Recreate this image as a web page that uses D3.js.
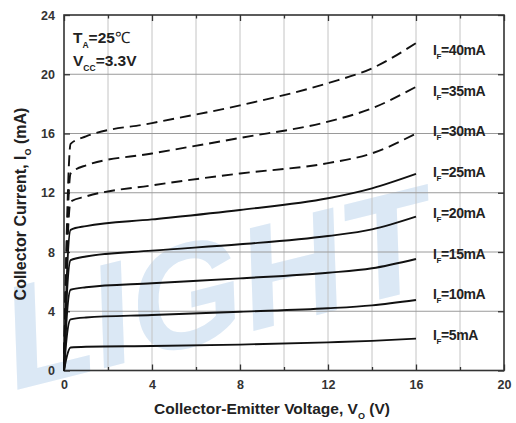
<!DOCTYPE html>
<html>
<head>
<meta charset="utf-8">
<script src="https://cdn.jsdelivr.net/npm/d3@7"></script>
<style>
	body { margin: 0; background: #fff; }
	text { font-family: "Liberation Sans", Arial, sans-serif; }
</style>
</head>
<body>
<script>
var Width = 516;
var Height = 423;
var margin = { top: 15, right: 12, bottom: 52.5, left: 64 };

// collector-emitter voltage points (V)
var vo = [0, 0.12, 0.3, 1, 4, 8, 12, 14, 16];
// collector current (mA) for each forward current
var io5 = [0, 0.9, 1.55, 1.6, 1.65, 1.75, 1.9, 2.0, 2.15];
var io10 = [0, 2.2, 3.45, 3.58, 3.75, 3.97, 4.2, 4.4, 4.76];
var io15 = [0, 3.5, 5.45, 5.62, 5.89, 6.22, 6.6, 6.9, 7.53];
var io20 = [0, 4.8, 7.45, 7.7, 8.09, 8.52, 9.08, 9.53, 10.39];
var io25 = [0, 6.0, 9.5, 9.75, 10.2, 10.84, 11.63, 12.3, 13.27];
var io30 = [0, 7.0, 11.4, 11.75, 12.5, 13.3, 14.0, 14.66, 16.0];
var io35 = [0, 8.0, 13.3, 13.85, 14.65, 15.7, 16.8, 17.7, 19.15];
var io40 = [0, 9.0, 15.3, 15.8, 16.7, 17.9, 19.4, 20.4, 22.1];

var ifLabels = ["40mA", "35mA", "30mA", "25mA", "20mA", "15mA", "10mA", "5mA"];
var ifSeries = [io40, io35, io30, io25, io20, io15, io10, io5];
var ifDashed = [true, true, true, false, false, false, false, false];

var xTicks = [0, 4, 8, 12, 16, 20];
var xMinor = [2, 6, 10, 14, 18];
var yTicks = [0, 4, 8, 12, 16, 20, 24];

var svg = d3.select("body").append("svg")
	.attr("width", Width)
	.attr("height", Height);

var pw = Width - margin.left - margin.right;
var ph = Height - margin.top - margin.bottom;

var x = d3.scaleLinear().domain([0, 20]).range([margin.left, margin.left + pw]);
var y = d3.scaleLinear().domain([0, 24]).range([margin.top + ph, margin.top]);

// watermark
svg.append("text")
	.attr("transform", "translate(8,392) rotate(-14) skewX(-12)")
	.attr("font-size", 146)
	.attr("font-weight", "bold")
	.attr("fill", "#dbe8f5")
	.text("LIGHT");

// grid
var grid = svg.append("g");
grid.selectAll(".vg")
	.data(d3.range(2, 20, 2))
	.enter().append("line")
	.attr("x1", d => x(d)).attr("x2", d => x(d))
	.attr("y1", y(0)).attr("y2", y(24))
	.attr("stroke", "#c4c4c4").attr("stroke-width", 1);
grid.selectAll(".hg")
	.data([4, 8, 12, 16, 20])
	.enter().append("line")
	.attr("x1", x(0)).attr("x2", x(20))
	.attr("y1", d => y(d)).attr("y2", d => y(d))
	.attr("stroke", "#9a9a9a").attr("stroke-width", 1);

// axes with inward ticks
svg.append("g").attr("transform", "translate(0," + y(0) + ")")
	.call(d3.axisBottom(x).tickValues(xTicks).tickSize(-6).tickPadding(10).tickFormat(d3.format("d")));
svg.append("g").attr("transform", "translate(0," + y(24) + ")")
	.call(d3.axisTop(x).tickValues(xTicks).tickSize(-6).tickFormat(""));
svg.append("g").attr("transform", "translate(" + x(0) + ",0)")
	.call(d3.axisLeft(y).tickValues(yTicks).tickSize(-6).tickPadding(9).tickFormat(d3.format("d")));
svg.append("g").attr("transform", "translate(" + x(20) + ",0)")
	.call(d3.axisRight(y).tickValues(yTicks).tickSize(-6).tickFormat(""));
svg.append("g").attr("transform", "translate(0," + y(0) + ")")
	.call(d3.axisBottom(x).tickValues(xMinor).tickSize(-3.5).tickFormat(""));
svg.append("g").attr("transform", "translate(0," + y(24) + ")")
	.call(d3.axisTop(x).tickValues(xMinor).tickSize(-3.5).tickFormat(""));

svg.selectAll(".domain").remove();
svg.selectAll(".tick line").attr("stroke", "#333").attr("stroke-width", 1.3);
svg.selectAll(".tick text")
	.attr("font-size", 12.5)
	.attr("font-weight", "bold")
	.attr("fill", "#333")
	.style("font-family", "'Liberation Sans', Arial, sans-serif");

svg.append("rect")
	.attr("x", x(0)).attr("y", y(24))
	.attr("width", x(20) - x(0)).attr("height", y(0) - y(24))
	.attr("fill", "none").attr("stroke", "#333").attr("stroke-width", 1.6);

// curves
var line = d3.line()
	.x((d, i) => x(vo[i]))
	.y(d => y(d))
	.curve(d3.curveMonotoneX);

svg.append("g").selectAll("path")
	.data(ifSeries)
	.enter().append("path")
	.attr("d", d => line(d))
	.attr("fill", "none")
	.attr("stroke", "#111")
	.attr("stroke-width", 1.9)
	.attr("stroke-dasharray", (d, i) => ifDashed[i] ? "11,6" : null);

// IF labels
var ly = d3.scaleLinear().domain([0, 7]).range([55, 340]);
var lab = svg.append("g").selectAll("text")
	.data(ifLabels)
	.enter().append("text")
	.attr("x", 433)
	.attr("y", (d, i) => ly(i))
	.attr("font-size", 14)
	.attr("font-weight", "bold")
	.attr("fill", "#222")
	.attr("letter-spacing", -0.4);
lab.append("tspan").text("I");
lab.append("tspan").attr("font-size", 8).attr("dy", 4).text("F");
lab.append("tspan").attr("dy", -4).text(d => "=" + d);

// conditions
var t1 = svg.append("text").attr("x", 73).attr("y", 43)
	.attr("font-size", 15.5).attr("font-weight", "bold").attr("fill", "#222");
t1.append("tspan").text("T");
t1.append("tspan").attr("font-size", 8.5).attr("dy", 5).text("A");
t1.append("tspan").attr("dy", -5).text("=25");
t1.append("tspan").attr("font-weight", "normal").text("\u2103");

var t2 = svg.append("text").attr("x", 73).attr("y", 66)
	.attr("font-size", 15.5).attr("font-weight", "bold").attr("fill", "#222");
t2.append("tspan").text("V");
t2.append("tspan").attr("font-size", 8.5).attr("dy", 5).text("CC");
t2.append("tspan").attr("dy", -5).text("=3.3V");

// axis titles
var xt = svg.append("text").attr("x", 272).attr("y", 414)
	.attr("text-anchor", "middle").attr("font-size", 15.5)
	.attr("font-weight", "bold").attr("fill", "#222");
xt.append("tspan").text("Collector-Emitter Voltage, V");
xt.append("tspan").attr("font-size", 9).attr("dy", 5).text("O");
xt.append("tspan").attr("dy", -5).text(" (V)");

var yt = svg.append("text")
	.attr("transform", "translate(26,204) rotate(-90)")
	.attr("text-anchor", "middle").attr("font-size", 16)
	.attr("font-weight", "bold").attr("fill", "#222");
yt.append("tspan").text("Collector Current, I");
yt.append("tspan").attr("font-size", 9).attr("dy", 5).text("O");
yt.append("tspan").attr("dy", -5).text(" (mA)");
</script>
</body>
</html>
